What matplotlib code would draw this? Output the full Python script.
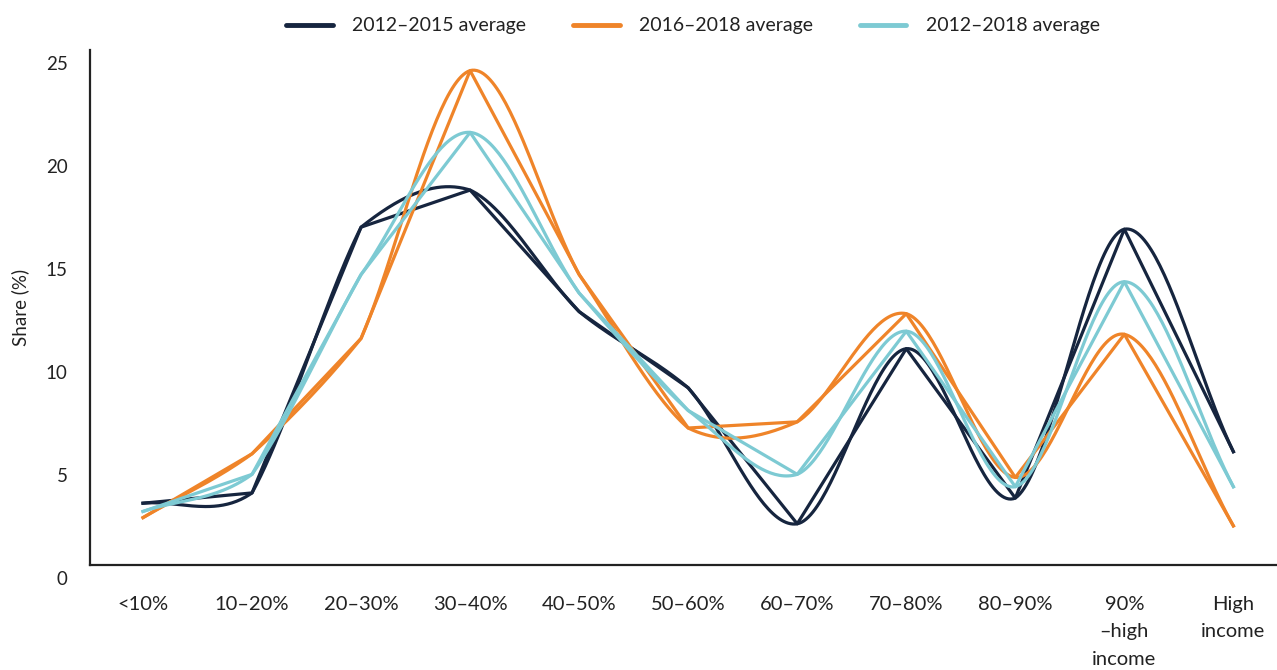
import numpy as np
import matplotlib.pyplot as plt
import matplotlib.transforms as mtransforms

plt.rcParams['font.family'] = ['Lato', 'DejaVu Sans']

categories = ['<10%', '10–20%', '20–30%', '30–40%', '40–50%', '50–60%',
              '60–70%', '70–80%', '80–90%', '90%\n–high\nincome', 'High\nincome']

avg_2012_2015 = [3.0, 3.5, 16.4, 18.2, 12.3, 8.6, 2.0, 10.5, 3.25, 16.3, 5.5]
avg_2016_2018 = [2.3, 5.4, 11.0, 24.0, 14.1, 6.65, 6.95, 12.2, 4.25, 11.2, 1.9]
avg_2012_2018 = [2.6, 4.4, 14.1, 21.0, 13.2, 7.5, 4.4, 11.35, 3.8, 13.75, 3.8]

series = [
    ('2012–2015 average', avg_2012_2015, '#16253f'),
    ('2016–2018 average', avg_2016_2018, '#ef8429'),
    ('2012–2018 average', avg_2012_2018, '#7dcad3'),
]


def smooth_line(x, y, sx, sy, tension=1 / 3, n=50):
    # cardinal-style smoothing along x; the tangent on each side of a point
    # is scaled by the (screen) length of the segment on that side
    x = np.asarray(x, float)
    y = np.asarray(y, float)
    k = len(x)
    d = np.hypot(np.diff(x) * sx, np.diff(y) * sy)
    m_out = np.zeros(k)
    m_in = np.zeros(k)
    for i in range(k):
        lo, hi = max(i - 1, 0), min(i + 1, k - 1)
        grad = (y[hi] - y[lo]) / (x[hi] - x[lo]) * (x[hi] - x[lo])
        dl = d[i - 1] if i > 0 else 0.0
        dr = d[i] if i < k - 1 else 0.0
        m_out[i] = grad * 3 * tension * dr / (dl + dr)
        m_in[i] = grad * 3 * tension * dl / (dl + dr)
    t = np.linspace(0, 1, n)
    xs, ys = [], []
    for i in range(k - 1):
        h = x[i + 1] - x[i]
        c = [y[i], y[i] + m_out[i] / 3, y[i + 1] - m_in[i + 1] / 3, y[i + 1]]
        by = ((1 - t) ** 3 * c[0] + 3 * (1 - t) ** 2 * t * c[1]
              + 3 * (1 - t) * t ** 2 * c[2] + t ** 3 * c[3])
        xs.append(x[i] + t * h)
        ys.append(by)
    return np.concatenate(xs), np.concatenate(ys)


fig = plt.figure(figsize=(12.77, 6.70), dpi=100)
ax = fig.add_axes([90 / 1277, 1 - 565 / 670, 1 - 90 / 1277, (565 - 50) / 670])
ax.set_xlim(-0.486, 10.40)
ax.set_ylim(0, 25)

# pixels per data unit, so segment lengths are measured as drawn
bbox = ax.get_window_extent()
px_x = bbox.width / (10.40 + 0.486)
px_y = bbox.height / 25

x = np.arange(len(categories))
for label, vals, color in series:
    ax.plot(x, vals, color=color, lw=2.3, label=label)
    cx, cy = smooth_line(x, vals, px_x, px_y)
    ax.plot(cx, cy, color=color, lw=2.3)

ax.set_yticks([0, 5, 10, 15, 20, 25])
ax.set_xticks(x)
ax.set_xticklabels(categories, fontsize=14.5, color='#222222', linespacing=1.75)
ax.tick_params(axis='x', length=0, pad=22)
ax.tick_params(axis='y', length=0, pad=16, labelsize=13.5, labelcolor='#222222')

# tick labels in the original sit a little below their gridline
offset = mtransforms.ScaledTranslation(0, -0.13, fig.dpi_scale_trans)
for lab in ax.get_yticklabels():
    lab.set_transform(lab.get_transform() + offset)

ax.set_ylabel('Share (%)', fontsize=13.5, color='#222222', labelpad=12)

for side in ['top', 'right']:
    ax.spines[side].set_visible(False)
for side in ['left', 'bottom']:
    ax.spines[side].set_color('#222222')
    ax.spines[side].set_linewidth(1.6)

leg = fig.legend(loc='center', bbox_to_anchor=(693 / 1277, 1 - 26 / 670), ncol=3,
                 frameon=False, fontsize=14, handlelength=2.4, handletextpad=1.0,
                 columnspacing=2.4)
for h in leg.get_lines():
    h.set_linewidth(3.5)
    h.set_solid_capstyle('round')
for t in leg.get_texts():
    t.set_color('#222222')

fig.savefig('out.png', dpi=100)
